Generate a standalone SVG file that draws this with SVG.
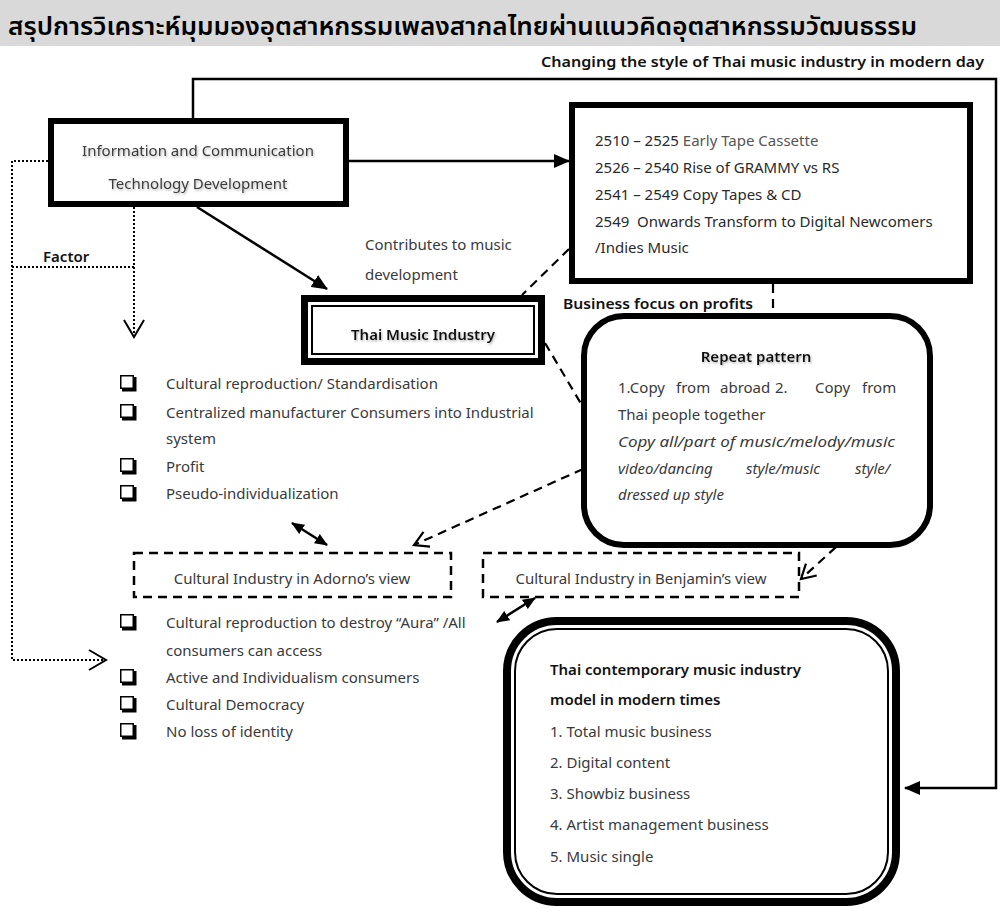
<svg xmlns="http://www.w3.org/2000/svg" width="1004" height="908" viewBox="0 0 1004 908">
<style>
text{font-family:"Noto Sans","Open Sans","DejaVu Sans",sans-serif;font-size:15px;fill:#2a2a2a}
.title{font-family:"Noto Sans Thai","Noto Sans","DejaVu Sans",sans-serif;font-size:24px;font-weight:600;fill:#000}
.b{font-weight:600;fill:#111}
.g{fill:#3a3a3a}
.it{font-style:italic}
.mid{text-anchor:middle}
.thick6{fill:#fff;stroke:#000;stroke-width:6}
.solid{fill:none;stroke:#000;stroke-width:2.5}
.dash{fill:none;stroke:#000;stroke-width:2.2;stroke-dasharray:9 6}
.dbox{fill:#fff;stroke:#000;stroke-width:2.5;stroke-dasharray:9 6}
.dot{fill:none;stroke:#000;stroke-width:2;stroke-dasharray:2 2}
</style>
<defs>
<marker id="fa" viewBox="0 0 16 14" refX="15" refY="7" markerWidth="16" markerHeight="14" markerUnits="userSpaceOnUse" orient="auto-start-reverse">
<path d="M0,0 L16,7 L0,14 Z" fill="#000"/>
</marker>
<marker id="fs" viewBox="0 0 13 11" refX="12" refY="5.5" markerWidth="13" markerHeight="11" markerUnits="userSpaceOnUse" orient="auto-start-reverse">
<path d="M0,0 L13,5.5 L0,11 Z" fill="#000"/>
</marker>
<marker id="oa" viewBox="0 0 18 20" refX="17" refY="10" markerWidth="18" markerHeight="20" markerUnits="userSpaceOnUse" orient="auto" overflow="visible">
<path d="M0,0 L17,10 L0,20" fill="none" stroke="#000" stroke-width="2"/>
</marker>
<marker id="os" viewBox="0 0 15 16" refX="14" refY="8" markerWidth="15" markerHeight="16" markerUnits="userSpaceOnUse" orient="auto" overflow="visible">
<path d="M0,0 L14,8 L0,16" fill="none" stroke="#000" stroke-width="2.2"/>
</marker>
<filter id="sh" x="-5%" y="-30%" width="115%" height="170%">
<feDropShadow dx="1" dy="1.5" stdDeviation="1" flood-color="#777" flood-opacity="0.55"/>
</filter>
<g id="cb">
<rect x="0.75" y="0.75" width="12.5" height="12.5" fill="#fff" stroke="#000" stroke-width="1.5"/>
<path d="M14,2 H16.5 V16.5 H2 V14 H14 Z" fill="#000"/>
</g>
</defs>

<g id="title">
<rect x="0" y="0" width="1000" height="46" fill="#d9d9d9"/>
<text class="title" x="8" y="35" textLength="909" lengthAdjust="spacingAndGlyphs">สรุปการวิเคราะห์มุมมองอุตสาหกรรมเพลงสากลไทยผ่านแนวคิดอุตสาหกรรมวัฒนธรรม</text>
</g>

<g id="connectors">
<path class="solid" d="M193,119 V79 H996 V788 H905" marker-end="url(#fa)"/>
<line class="solid" x1="349" y1="161" x2="569" y2="161" marker-end="url(#fa)"/>
<line class="solid" x1="197" y1="207" x2="327" y2="289" marker-end="url(#fa)"/>
<line class="dash" x1="569" y1="249" x2="522" y2="295"/>
<line class="dash" x1="545" y1="343" x2="583" y2="407"/>
<line class="dash" x1="773" y1="284" x2="773" y2="313"/>
<line class="dash" x1="583" y1="469" x2="414" y2="545" marker-end="url(#os)"/>
<line class="dash" x1="847" y1="537" x2="801" y2="579" marker-end="url(#os)"/>
<line class="solid" x1="292" y1="523" x2="327" y2="545" marker-start="url(#fs)" marker-end="url(#fs)"/>
<line class="solid" x1="497" y1="622" x2="535" y2="598" marker-start="url(#fs)" marker-end="url(#fs)"/>
<path class="dot" d="M48,161 H12 V660 H106" marker-end="url(#oa)"/>
<path class="dot" d="M134,207 V337" marker-end="url(#oa)"/>
<path class="dot" d="M12,267 H134"/>
</g>

<g id="label-changing"><text class="b" x="541" y="67" textLength="443" lengthAdjust="spacingAndGlyphs" style="font-size:15px">Changing the style of Thai music industry in modern day</text></g>
<g id="label-factor"><text class="b" x="43" y="262">Factor</text></g>
<g id="label-contributes">
<text class="g" x="365" y="250">Contributes to music</text>
<text class="g" x="365" y="280">development</text>
</g>
<g id="label-business"><text class="b" x="563" y="309" textLength="190" lengthAdjust="spacingAndGlyphs">Business focus on profits</text></g>

<g id="node-ict">
<rect class="thick6" x="51" y="121" width="295" height="83"/>
<text class="g mid" x="198" y="156" filter="url(#sh)">Information and Communication</text>
<text class="g mid" x="198" y="189" filter="url(#sh)">Technology Development</text>
</g>

<g id="node-timeline">
<rect class="thick6" x="572" y="105" width="398" height="176"/>
<text x="595" y="146">2510 – 2525 <tspan fill="#555">Early Tape Cassette</tspan></text>
<text x="595" y="173">2526 – 2540 Rise of GRAMMY vs RS</text>
<text x="595" y="200">2541 – 2549 Copy Tapes &amp; CD</text>
<text x="595" y="227">2549&#160; Onwards Transform to Digital Newcomers</text>
<text x="595" y="253">/Indies Music</text>
</g>

<g id="node-thai-music-industry">
<rect x="304.5" y="298.5" width="237" height="63" fill="#fff" stroke="#000" stroke-width="7"/>
<rect x="312" y="306" width="222" height="48" fill="none" stroke="#000" stroke-width="2"/>
<text class="b mid" x="423" y="340" filter="url(#sh)">Thai Music Industry</text>
</g>

<g id="node-repeat">
<rect class="thick6" x="584" y="316" width="346" height="229" rx="40"/>
<text class="b mid" x="756" y="362" filter="url(#sh)">Repeat pattern</text>
<text class="g"><tspan x="618" y="393">1.Copy</tspan> <tspan x="676" y="393">from</tspan> <tspan x="720" y="393">abroad</tspan> <tspan x="775" y="393">2.</tspan>  <tspan x="815" y="393">Copy</tspan> <tspan x="862" y="393">from</tspan></text>
<text class="g" x="618" y="420">Thai people together</text>
<text class="g it" x="618" y="447" textLength="277" lengthAdjust="spacingAndGlyphs">Copy all/part of music/melody/music</text>
<text class="g it"><tspan x="618" y="474">video/dancing</tspan> <tspan x="746" y="474">style/music</tspan> <tspan x="855" y="474">style/</tspan></text>
<text class="g it" x="618" y="500">dressed up style</text>
</g>

<g id="list-adorno">
<use href="#cb" x="120" y="375"/>
<use href="#cb" x="120" y="404"/>
<use href="#cb" x="120" y="458"/>
<use href="#cb" x="120" y="485"/>
<text class="g" x="166" y="389">Cultural reproduction/ Standardisation</text>
<text class="g" x="166" y="418">Centralized manufacturer Consumers into Industrial</text>
<text class="g" x="166" y="444">system</text>
<text class="g" x="166" y="472">Profit</text>
<text class="g" x="166" y="499">Pseudo-individualization</text>
</g>

<g id="node-adorno">
<rect class="dbox" x="134" y="553" width="317" height="44"/>
<text class="g mid" x="292" y="584">Cultural Industry in Adorno’s view</text>
</g>

<g id="node-benjamin">
<rect class="dbox" x="483" y="553" width="316" height="44"/>
<text class="g mid" x="641" y="584">Cultural Industry in Benjamin’s view</text>
</g>

<g id="list-benjamin">
<use href="#cb" x="120" y="614"/>
<use href="#cb" x="120" y="669"/>
<use href="#cb" x="120" y="696"/>
<use href="#cb" x="120" y="723"/>
<text class="g" x="166" y="628">Cultural reproduction to destroy “Aura” /All</text>
<text class="g" x="166" y="656">consumers can access</text>
<text class="g" x="166" y="683">Active and Individualism consumers</text>
<text class="g" x="166" y="710">Cultural Democracy</text>
<text class="g" x="166" y="737">No loss of identity</text>
</g>

<g id="node-contemporary">
<rect x="507" y="621" width="389" height="281" rx="50" fill="#fff" stroke="#000" stroke-width="8"/>
<rect x="515" y="629" width="373" height="265" rx="42" fill="none" stroke="#000" stroke-width="2"/>
<text class="b" x="550" y="675">Thai contemporary music industry</text>
<text class="b" x="550" y="705">model in modern times</text>
<text class="g" x="550" y="737">1. Total music business</text>
<text class="g" x="550" y="768">2. Digital content</text>
<text class="g" x="550" y="799">3. Showbiz business</text>
<text class="g" x="550" y="830">4. Artist management business</text>
<text class="g" x="550" y="862">5. Music single</text>
</g>
</svg>
